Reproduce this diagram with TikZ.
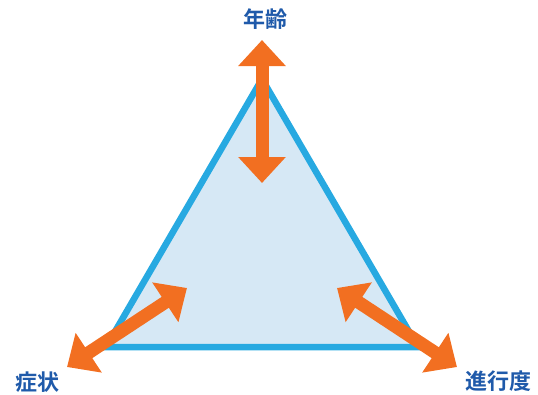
\documentclass[tikz,border=0pt]{standalone}
\usepackage{fontspec}
\newfontfamily\cjk{Noto Sans CJK JP}[BoldFont={Noto Sans CJK JP Bold}]
\usetikzlibrary{arrows.meta}
\definecolor{triblue}{HTML}{27A9E1}
\definecolor{trifill}{HTML}{D6E8F5}
\definecolor{arrorange}{HTML}{F26F21}
\definecolor{labelblue}{HTML}{1F5AAA}
\begin{document}
\begin{tikzpicture}[x=1pt,y=-1pt,
  tri/.style={draw=triblue,fill=trifill,line width=6.5pt,line join=miter},
  dblarrow/.style={draw=arrorange,line width=13pt,
    {Triangle[width=46pt,length=26pt]}-{Triangle[width=46pt,length=26pt]}},
  lbl/.style={text=labelblue,font=\cjk\bfseries\fontsize{22pt}{25pt}\selectfont,inner sep=0pt}]
\useasboundingbox (0,0) rectangle (538,394);
\coordinate (A) at (262,79);
\coordinate (B) at (106,347);
\coordinate (C) at (418,347);
\filldraw[tri] (A) -- (B) -- (C) -- cycle;
\coordinate (t1) at (262,40);
\coordinate (t2) at (262,183);
\coordinate (l1) at (67,367);
\coordinate (l2) at (187,288);
\coordinate (r1) at (457,367);
\coordinate (r2) at (337,288);
\draw[dblarrow] (t1) -- (t2);
\draw[dblarrow] (l1) -- (l2);
\draw[dblarrow] (r1) -- (r2);
\node[lbl] (age) at (265,19) {年齢};
\node[lbl] (sym) at (38,382) {症状};
\node[lbl] (prog) at (498,381) {進行度};
\end{tikzpicture}
\end{document}
